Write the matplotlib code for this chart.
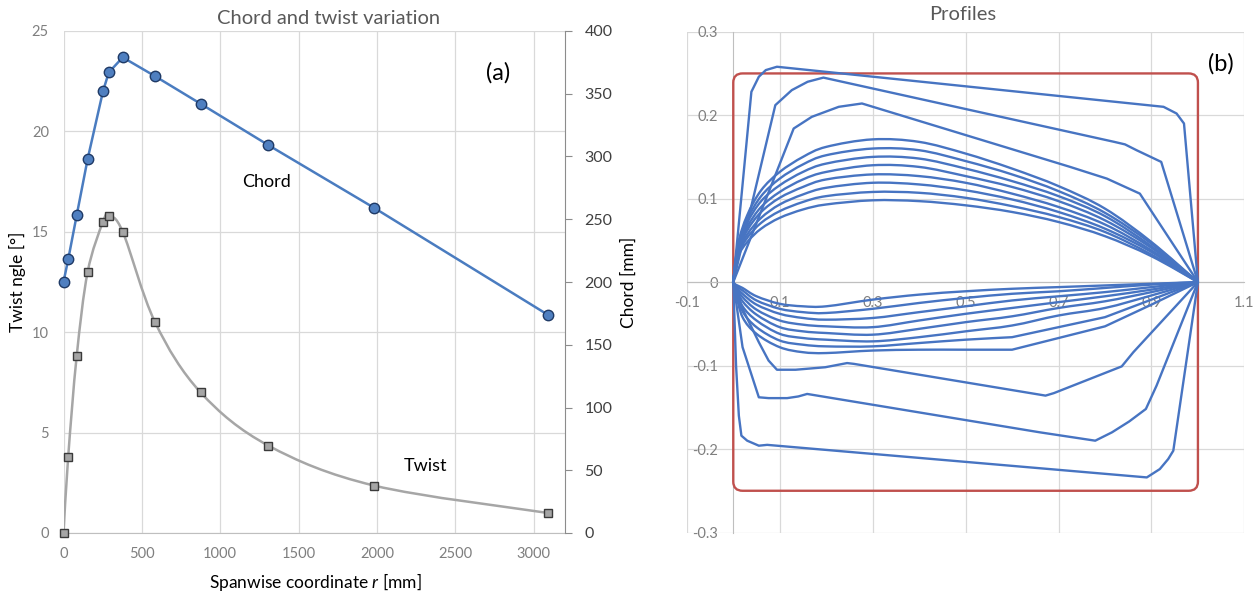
import numpy as np
import matplotlib
matplotlib.use('Agg')
import matplotlib.pyplot as plt
from matplotlib.path import Path
from matplotlib.patches import PathPatch, FancyBboxPatch

plt.rcParams['font.family'] = ['Lato', 'DejaVu Sans']
plt.rcParams['axes.unicode_minus'] = False
plt.rcParams['mathtext.fontset'] = 'custom'
plt.rcParams['mathtext.rm'] = 'Lato'
plt.rcParams['mathtext.it'] = 'Lato:italic'

# (a) chord and twist along the span
span_r = [0, 30, 84, 154, 252, 289, 378, 584, 875, 1308, 1983, 3089]
chord_mm = [200, 218, 253, 298, 352, 367, 379, 364, 342, 309, 259, 174]
twist_deg = [0, 3.8, 8.8, 13.0, 15.5, 15.8, 15.0, 10.5, 7.0, 4.35, 2.36, 1.0]

span_ticks = [0, 500, 1000, 1500, 2000, 2500, 3000]
twist_ticks = [0, 5, 10, 15, 20, 25]
chord_ticks = [0, 50, 100, 150, 200, 250, 300, 350, 400]

# (b) profiles, thin sections share x grids
prof_x_up = [0, 0.01, 0.03, 0.06, 0.1, 0.15, 0.2, 0.3, 0.4, 0.5, 0.6, 0.7, 0.8, 0.9, 1.0]
prof_up = [
    [0, 0.045, 0.080, 0.110, 0.132, 0.150, 0.162, 0.171, 0.168, 0.154, 0.136, 0.115, 0.088, 0.048, 0],
    [0, 0.043, 0.075, 0.103, 0.124, 0.141, 0.152, 0.160, 0.158, 0.145, 0.129, 0.109, 0.083, 0.046, 0],
    [0, 0.041, 0.071, 0.097, 0.116, 0.132, 0.142, 0.150, 0.148, 0.136, 0.121, 0.103, 0.079, 0.043, 0],
    [0, 0.039, 0.066, 0.090, 0.108, 0.123, 0.132, 0.140, 0.138, 0.127, 0.114, 0.097, 0.074, 0.041, 0],
    [0, 0.036, 0.062, 0.084, 0.101, 0.114, 0.123, 0.129, 0.127, 0.119, 0.106, 0.090, 0.069, 0.038, 0],
    [0, 0.034, 0.057, 0.077, 0.093, 0.105, 0.113, 0.119, 0.117, 0.110, 0.099, 0.084, 0.064, 0.036, 0],
    [0, 0.032, 0.053, 0.071, 0.085, 0.096, 0.103, 0.108, 0.107, 0.101, 0.091, 0.078, 0.060, 0.033, 0],
    [0, 0.030, 0.048, 0.064, 0.077, 0.087, 0.093, 0.098, 0.097, 0.092, 0.084, 0.072, 0.055, 0.031, 0],
]
prof_x_lo = [0, 0.005, 0.02, 0.05, 0.1, 0.15, 0.2, 0.3, 0.4, 0.5, 0.6, 0.7, 0.8, 0.9, 1.0]
prof_lo = [
    [0, -0.012, -0.042, -0.062, -0.078, -0.084, -0.085, -0.082, -0.081, -0.081, -0.081, -0.067, -0.053, -0.027, 0],
    [0, -0.010, -0.035, -0.054, -0.070, -0.075, -0.077, -0.077, -0.073, -0.069, -0.066, -0.054, -0.042, -0.021, 0],
    [0, -0.008, -0.029, -0.046, -0.062, -0.067, -0.069, -0.071, -0.066, -0.059, -0.052, -0.040, -0.031, -0.016, 0],
    [0, -0.007, -0.023, -0.039, -0.054, -0.059, -0.061, -0.063, -0.056, -0.048, -0.041, -0.031, -0.023, -0.012, 0],
    [0, -0.006, -0.018, -0.033, -0.046, -0.051, -0.053, -0.054, -0.046, -0.038, -0.031, -0.024, -0.017, -0.009, 0],
    [0, -0.005, -0.014, -0.027, -0.038, -0.043, -0.045, -0.043, -0.036, -0.029, -0.022, -0.017, -0.012, -0.006, 0],
    [0, -0.004, -0.010, -0.022, -0.032, -0.036, -0.037, -0.032, -0.025, -0.019, -0.014, -0.011, -0.007, -0.003, 0],
    [0, -0.003, -0.007, -0.017, -0.026, -0.029, -0.029, -0.021, -0.015, -0.011, -0.008, -0.006, -0.004, -0.002, 0],
]
# index after which a lower line runs straight (kinked sections)
prof_lo_kink = [10, 10, 14, 14, 14, 14, 14, 14]

# thick root sections
root_up_x = [
    [0, 0.039, 0.055, 0.070, 0.094, 0.926, 0.954, 0.970, 1.0],
    [0, 0.0905, 0.126, 0.160, 0.194, 0.820, 0.843, 0.868, 0.921, 1.0],
    [0, 0.130, 0.169, 0.227, 0.277, 0.725, 0.804, 0.875, 1.0],
]
root_up = [
    [0, 0.228, 0.246, 0.254, 0.258, 0.210, 0.202, 0.190, 0],
    [0, 0.212, 0.230, 0.240, 0.245, 0.168, 0.165, 0.158, 0.144, 0],
    [0, 0.184, 0.198, 0.210, 0.214, 0.138, 0.124, 0.106, 0],
]
root_lo_x = [
    [0, 0.006, 0.012, 0.0175, 0.030, 0.055, 0.073, 0.890, 0.918, 0.936, 0.947, 1.0],
    [0, 0.020, 0.055, 0.076, 0.116, 0.140, 0.159, 0.170, 0.660, 0.779, 0.815, 0.852, 0.888, 0.911, 1.0],
    [0, 0.020, 0.055, 0.076, 0.094, 0.134, 0.198, 0.245, 0.260, 0.672, 0.690, 0.836, 0.861, 1.0],
]
root_lo = [
    [0, -0.100, -0.160, -0.184, -0.190, -0.196, -0.195, -0.234, -0.224, -0.212, -0.202, 0],
    [0, -0.078, -0.138, -0.139, -0.139, -0.137, -0.134, -0.135, -0.180, -0.190, -0.180, -0.167, -0.152, -0.124, 0],
    [0, -0.032, -0.072, -0.094, -0.105, -0.105, -0.102, -0.097, -0.098, -0.136, -0.133, -0.101, -0.084, 0],
]
box_x = [0, 1.0]
box_y = [-0.25, 0.25]

prof_xticks = [-0.1, 0.1, 0.3, 0.5, 0.7, 0.9, 1.1]
prof_xlabels = ['-0.1', '0.1', '0.3', '0.5', '0.7', '0.9', '1.1']
prof_yticks = [-0.3, -0.2, -0.1, 0, 0.1, 0.2, 0.3]
prof_ylabels = ['-0.3', '-0.2', '-0.1', '0', '0.1', '0.2', '0.3']


def smooth_path(xs, ys, kink=None):
    # excel-like smoothed line: catmull-rom segments as cubic beziers,
    # straight segments after index kink
    p = np.column_stack([xs, ys]).astype(float)
    n = len(p)
    if kink is None:
        kink = n - 1
    pts = np.vstack([p[0], p[:kink + 1], p[kink]])
    verts = [p[0]]
    codes = [Path.MOVETO]
    for i in range(kink):
        p0, p1, p2, p3 = pts[i], pts[i + 1], pts[i + 2], pts[i + 3]
        verts += [p1 + (p2 - p0) / 6, p2 - (p3 - p1) / 6, p2]
        codes += [Path.CURVE4] * 3
    for i in range(kink + 1, n):
        verts.append(p[i])
        codes.append(Path.LINETO)
    return Path(verts, codes)


W, H = 1260, 597
fig = plt.figure(figsize=(12.6, 5.97), dpi=100)
grid_c = '#d9d9d9'
axis_c = '#bfbfbf'
lbl_c = '#7f7f7f'
blue = '#4774C2'

# ---------- (a) ----------
ax = fig.add_axes([63.5 / W, 1 - 533 / H, (565 - 63.5) / W, (533 - 31) / H])
ax.set_xlim(0, 3200)
ax.set_ylim(0, 25)
ax.set_xticks(span_ticks)
ax.set_yticks(twist_ticks)
ax.grid(color=grid_c, lw=0.9)
ax.set_axisbelow(True)
for s in ['left', 'top', 'right']:
    ax.spines[s].set_visible(False)
ax.spines['bottom'].set_color(axis_c)
ax.tick_params(length=0, colors=lbl_c, labelsize=10.5)
ax.tick_params(axis='y', pad=10.5)
ax.tick_params(axis='x', pad=10)

ax.add_patch(PathPatch(smooth_path(span_r, twist_deg), fill=False, ec='#a6a6a6', lw=1.8,
                       transform=ax.transData, zorder=3))
ax.plot(span_r, twist_deg, ls='none', marker='s', ms=6.3, mfc='#a5a5a5', mec='#3a3a3a',
        mew=1.0, zorder=4, clip_on=False)

ax2 = ax.twinx()
ax2.set_ylim(0, 400)
ax2.set_yticks(chord_ticks)
for s in ['left', 'top', 'bottom']:
    ax2.spines[s].set_visible(False)
ax2.spines['right'].set_color('#8c8c8c')
ax2.tick_params(axis='y', length=5, color='#8c8c8c', labelcolor='#404040', labelsize=11.5, pad=9)
ax2.plot(span_r, chord_mm, color='#4a7cc0', lw=1.8, marker='o', ms=7.5, mfc='#4f7fc0',
         mec='#1f3a66', mew=1.0, zorder=4, clip_on=False)

ax2.text(1294, 280, 'Chord', fontsize=13, ha='center', va='center')
ax.text(2311, 3.34, 'Twist', fontsize=13, ha='center', va='center')
ax.text(2775, 22.9, '(a)', fontsize=17, ha='center', va='center')

fig.text(329 / W, 1 - 18 / H, 'Chord and twist variation', fontsize=14.5, color='#595959',
         ha='center', va='center')
fig.text(315 / W, 1 - 582 / H, 'Spanwise coordinate $r$ [mm]', fontsize=12.5, ha='center', va='center')
fig.text(17 / W, 1 - 282 / H, 'Twist ngle [°]', fontsize=12.5, rotation=90, ha='center', va='center')
fig.text(629 / W, 1 - 282 / H, 'Chord [mm]', fontsize=12.5, rotation=90, ha='center', va='center')

# ---------- (b) ----------
bx = fig.add_axes([686.8 / W, 1 - 532.5 / H, (1244.4 - 686.8) / W, (532.5 - 31.7) / H])
bx.set_xlim(-0.1, 1.1)
bx.set_ylim(-0.3, 0.3)
bx.set_xticks(prof_xticks)
bx.set_xticklabels(prof_xlabels)
bx.set_yticks(prof_yticks)
bx.set_yticklabels(prof_ylabels)
bx.grid(color=grid_c, lw=0.9)
bx.set_axisbelow(True)
bx.spines['left'].set_position(('data', 0))
bx.spines['bottom'].set_position(('data', 0))
bx.spines['left'].set_color(axis_c)
bx.spines['bottom'].set_color(axis_c)
bx.spines['top'].set_visible(False)
bx.spines['right'].set_visible(False)
bx.tick_params(length=0, colors=lbl_c, labelsize=10.5)
bx.tick_params(axis='y', pad=11)
bx.tick_params(axis='x', pad=10)

bx.add_patch(FancyBboxPatch((box_x[0], box_y[0]), box_x[1] - box_x[0], box_y[1] - box_y[0],
                            boxstyle='round,pad=0,rounding_size=0.02', mutation_aspect=0.55,
                            fill=False, ec='#c0504d', lw=1.7, zorder=2.8))

for xu, yu, xl, yl in zip(root_up_x, root_up, root_lo_x, root_lo):
    bx.plot(list(xu) + list(xl[::-1]), list(yu) + list(yl[::-1]), color=blue, lw=1.7, zorder=3)
for yu, yl, k in zip(prof_up, prof_lo, prof_lo_kink):
    for path in (smooth_path(prof_x_up, yu), smooth_path(prof_x_lo, yl, k)):
        bx.add_patch(PathPatch(path, fill=False, ec=blue, lw=1.7, zorder=3,
                               transform=bx.transData))

bx.text(1.049, 0.262, '(b)', fontsize=17, ha='center', va='center')
fig.text(963 / W, 1 - 15 / H, 'Profiles', fontsize=14.5, color='#595959', ha='center', va='center')

fig.savefig('out.png', dpi=100)
